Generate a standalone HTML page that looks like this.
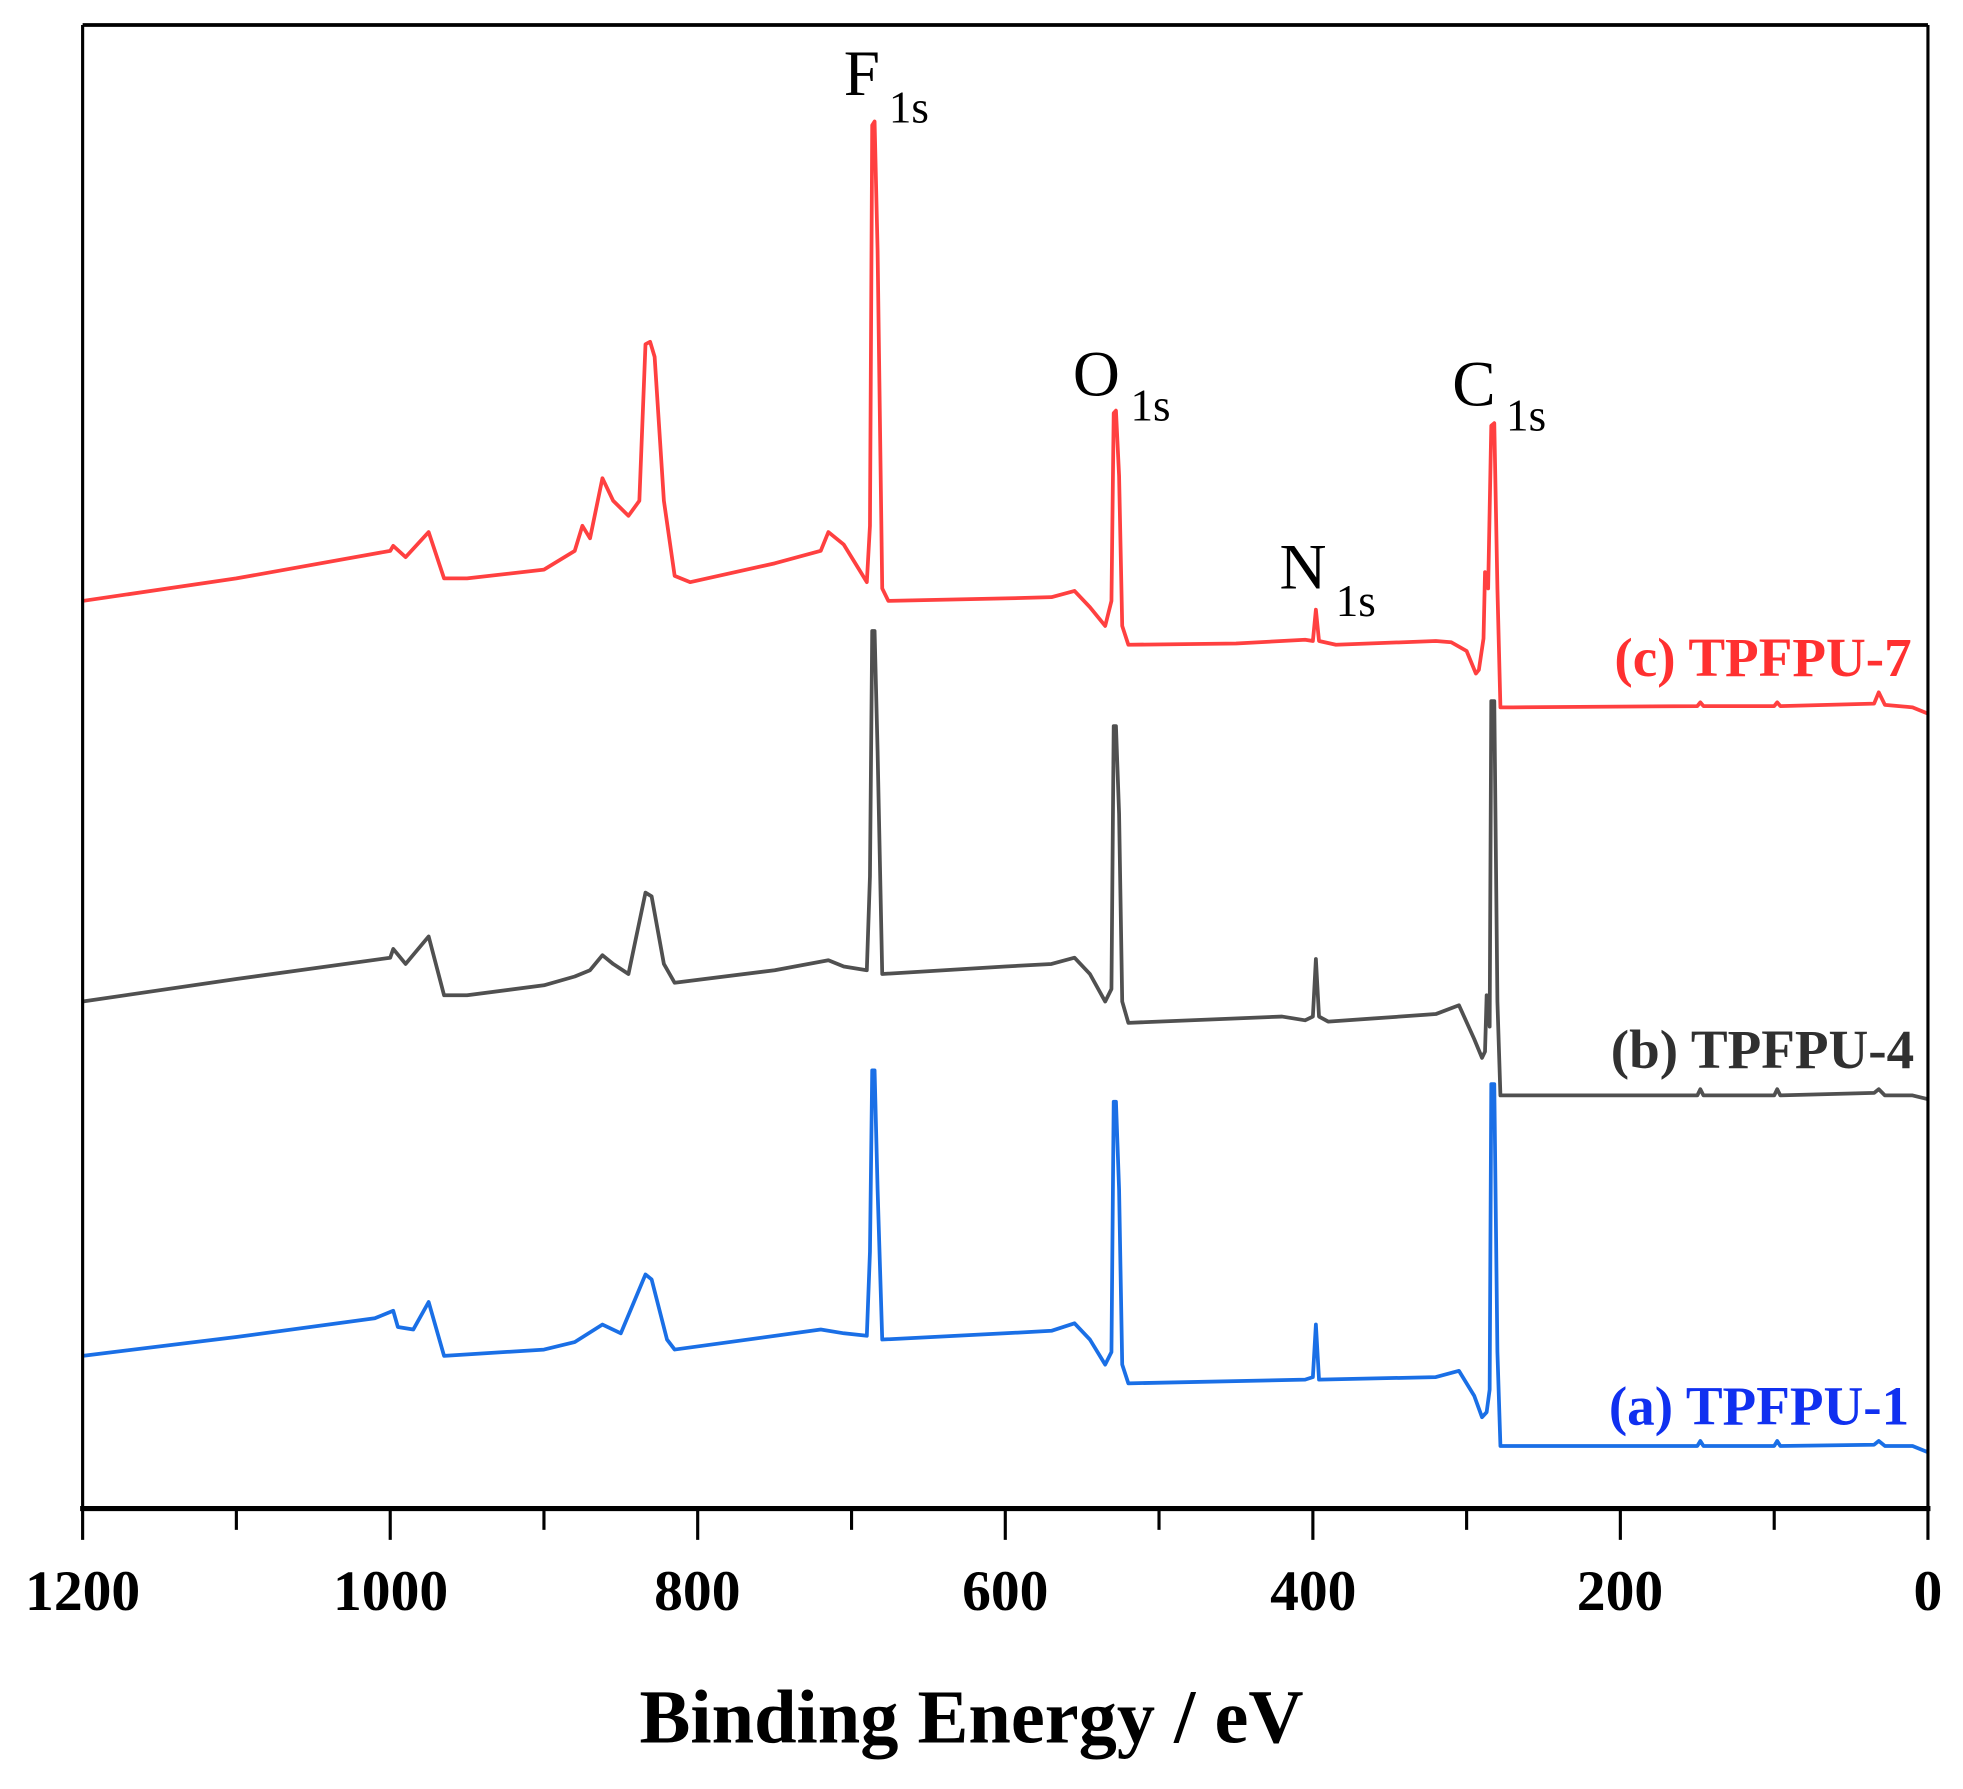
<!DOCTYPE html>
<html><head><meta charset="utf-8"><style>
html,body{margin:0;padding:0;background:#fff}
svg{display:block}
text{font-family:"Liberation Serif",serif}
</style></head><body>
<svg width="1963" height="1789" viewBox="0 0 1568 1429" xmlns="http://www.w3.org/2000/svg">
<rect width="1568" height="1429" fill="#fff"/>
<g fill="none" stroke-width="3" stroke-linejoin="round">
<path stroke="#1a6fe6" d="M66 1083 L188.8 1068 L299.4 1053 L314.1 1047 L317.8 1060 L330.1 1062 L342.4 1040 L354.7 1083 L434.5 1078 L459.1 1072 L481.2 1058 L495.9 1065 L515.6 1018 L520.5 1022 L532.8 1070 L538.9 1078 L655.6 1062 L674 1065 L692.4 1067 L694.9 1000 L696.7 855 L698.6 855 L701 950 L704.7 1070 L803 1065 L839.9 1063 L858.3 1057 L870.6 1070 L882.8 1090 L887.8 1080 L889.6 880 L891.4 880 L893.9 950 L896.4 1090 L901.3 1105 L1042.5 1102 L1048.7 1100 L1051.1 1058 L1053.6 1102 L1146.9 1100 L1165.4 1095 L1177.6 1115 L1183.8 1132 L1187.5 1128 L1189.9 1110 L1191.2 866 L1193.6 866 L1196.1 1080 L1198.5 1155 L1355.8 1155 L1358.2 1151 L1360.7 1155 L1417.2 1155 L1419.6 1151 L1422.1 1155 L1497 1154 L1500.7 1151 L1505.6 1155 L1527.7 1155 L1540 1160"/>
<path stroke="#505050" d="M66 800 L188.8 782 L311.7 765 L314.1 758 L324 770 L342.4 748 L354.7 795 L373.1 795 L434.5 787 L459.1 780 L471.3 775 L481.2 763 L489.8 770 L502 778 L515.6 713 L520.5 716 L530.3 770 L538.9 785 L618.8 775 L661.7 767 L674 772 L692.4 775 L694.9 700 L696.7 504 L698.6 504 L701 600 L704.7 778 L803 772 L839.9 770 L858.3 765 L870.6 778 L882.8 800 L887.8 790 L889.6 580 L891.4 580 L893.9 650 L896.4 800 L901.3 817 L1024.1 812 L1042.5 815 L1048.7 812 L1051.1 766 L1053.6 812 L1060.9 816 L1146.9 810 L1165.4 803 L1177.6 830 L1183.8 845 L1186.2 840 L1187.5 795 L1189.9 820 L1191.2 560 L1193.6 560 L1196.1 800 L1198.5 875 L1355.8 875 L1358.2 870 L1360.7 875 L1417.2 875 L1419.6 870 L1422.1 875 L1497 873 L1500.7 870 L1505.6 875 L1527.7 875 L1540 878"/>
<path stroke="#ff4040" d="M66 480 L188.8 462 L311.7 440 L314.1 436 L324 445 L342.4 425 L354.7 462 L373.1 462 L434.5 455 L459.1 440 L465.2 420 L471.3 430 L481.2 382 L489.8 400 L502 412 L510.7 400 L515.6 275 L519.3 273 L522.9 285 L530.3 400 L538.9 460 L551.2 465 L618.8 450 L655.6 440 L661.7 425 L674 435 L686.3 455 L692.4 465 L694.9 420 L696.7 100 L698.6 97 L701 200 L704.7 470 L709.6 480 L803 478 L839.9 477 L858.3 472 L870.6 485 L882.8 500 L887.8 480 L889.6 330 L891.4 328 L893.9 380 L896.4 500 L901.3 515 L987.3 514 L1042.5 511 L1048.7 512 L1051.1 487 L1053.6 512 L1067.1 515 L1146.9 512 L1159.2 513 L1171.5 520 L1178.9 538 L1181.3 535 L1185 510 L1186.2 457 L1188.7 470 L1191.2 340 L1193.6 338 L1196.1 470 L1198.5 565 L1208.3 565 L1355.8 564 L1358.2 561 L1360.7 564 L1417.2 564 L1419.6 561 L1422.1 564 L1497 562 L1500.7 553 L1505.6 563 L1527.7 565 L1540 570"/>
</g>
<line x1="66" y1="20" x2="1540" y2="20" stroke="#000" stroke-width="3"/>
<line x1="66" y1="20" x2="66" y2="1205" stroke="#000" stroke-width="2.5"/>
<line x1="1540" y1="20" x2="1540" y2="1205" stroke="#000" stroke-width="2.5"/>
<line x1="64" y1="1205" x2="1542" y2="1205" stroke="#000" stroke-width="4"/>
<g stroke="#000" stroke-width="2.5">
<line x1="66" y1="1205" x2="66" y2="1230"/><line x1="188.8" y1="1205" x2="188.8" y2="1222"/>
<line x1="311.7" y1="1205" x2="311.7" y2="1230"/><line x1="434.5" y1="1205" x2="434.5" y2="1222"/>
<line x1="557.3" y1="1205" x2="557.3" y2="1230"/><line x1="680.2" y1="1205" x2="680.2" y2="1222"/>
<line x1="803" y1="1205" x2="803" y2="1230"/><line x1="925.8" y1="1205" x2="925.8" y2="1222"/>
<line x1="1048.7" y1="1205" x2="1048.7" y2="1230"/><line x1="1171.5" y1="1205" x2="1171.5" y2="1222"/>
<line x1="1294.3" y1="1205" x2="1294.3" y2="1230"/><line x1="1417.2" y1="1205" x2="1417.2" y2="1222"/>
<line x1="1540" y1="1205" x2="1540" y2="1230"/>
</g>
<g font-weight="bold" font-size="46" text-anchor="middle">
<text x="66" y="1286">1200</text><text x="312" y="1286">1000</text><text x="557" y="1286">800</text>
<text x="803" y="1286">600</text><text x="1049" y="1286">400</text><text x="1294" y="1286">200</text><text x="1540" y="1286">0</text>
</g>
<text x="776" y="1392" font-weight="bold" font-size="61" text-anchor="middle">Binding Energy / eV</text>
<g font-size="52">
<text x="674" y="76">F</text><text x="710" y="98" font-size="36">1s</text>
<text x="857" y="316">O</text><text x="903" y="336" font-size="36">1s</text>
<text x="1160" y="324">C</text><text x="1203" y="344" font-size="36">1s</text>
<text x="1022" y="470">N</text><text x="1067" y="492" font-size="36">1s</text>
</g>
<g font-weight="bold" font-size="44" text-anchor="end">
<text x="1527" y="540" fill="#ff3030">(c) TPFPU-7</text>
<text x="1529" y="853" fill="#303030">(b) TPFPU-4</text>
<text x="1525" y="1138" fill="#1030f0">(a) TPFPU-1</text>
</g>
</svg>
</body></html>
